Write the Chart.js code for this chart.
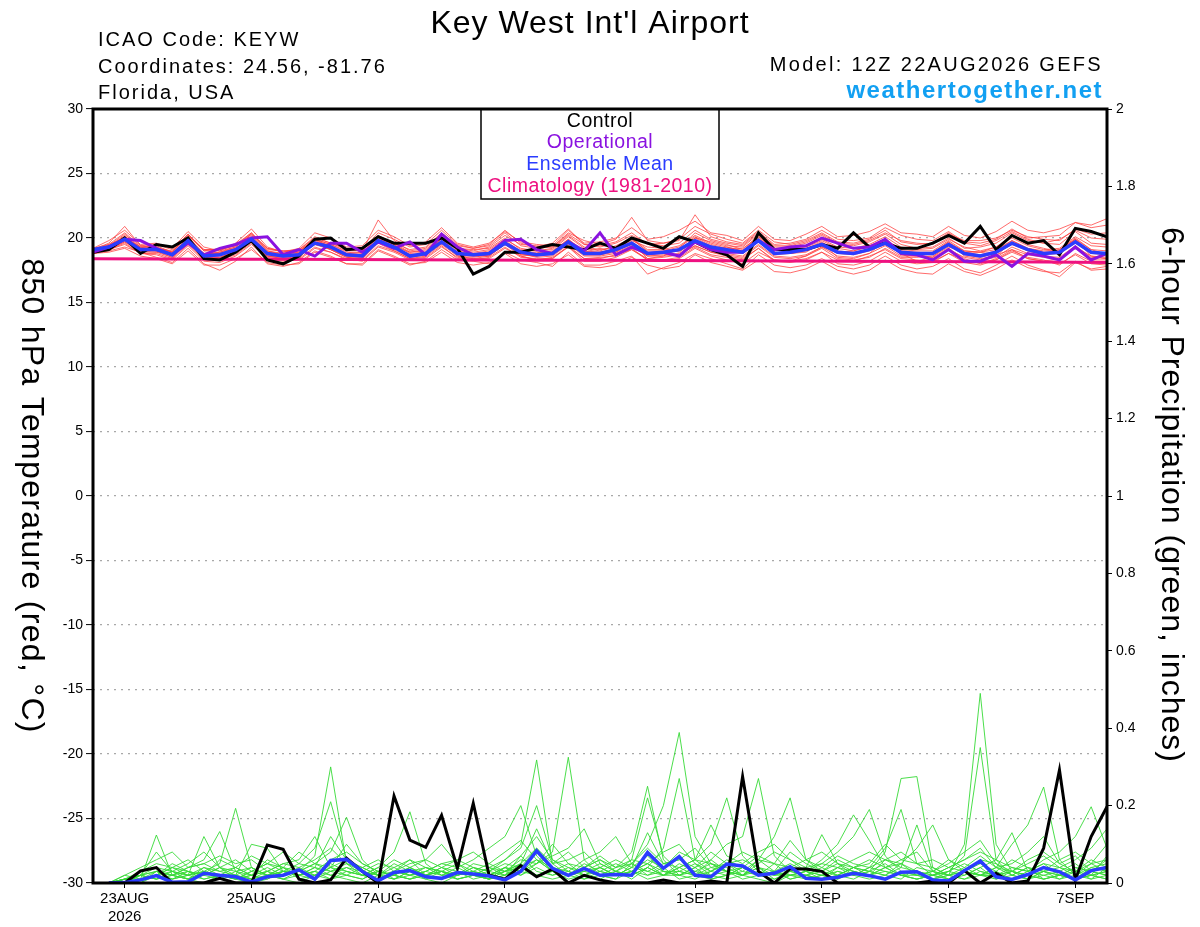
<!DOCTYPE html>
<html>
<head>
<meta charset="utf-8">
<title>Key West Int'l Airport - GEFS meteogram</title>
<script src="https://cdn.jsdelivr.net/npm/chart.js@4.4.1/dist/chart.umd.min.js"></script>
<style>
  html, body { margin: 0; padding: 0; background: #fff; }
  #wrap { width: 1200px; height: 927px; }
</style>
</head>
<body>
<div id="wrap"><canvas id="meteogram" width="1200" height="927"></canvas></div>
<script>
// forecast hours from 12Z 22AUG2026, every 6 hours
var hours = [];
for (var h = 0; h <= 384; h += 6) hours.push(h);
var precipHours = hours.slice(1);

var tickHours = [12, 60, 108, 156, 228, 276, 324, 372];
var tickLabels = ['23AUG', '25AUG', '27AUG', '29AUG', '1SEP', '3SEP', '5SEP', '7SEP'];
var tickYear = '2026';

var chartTitle = "Key West Int'l Airport";
var infoLines = ['ICAO Code: KEYW', 'Coordinates: 24.56, -81.76', 'Florida, USA'];
var modelText = 'Model: 12Z 22AUG2026 GEFS';
var siteText = 'weathertogether.net';
var legendNames = ['Control', 'Operational', 'Ensemble Mean', 'Climatology (1981-2010)'];
var legendColors = ['#000000', '#8a12e0', '#2a3cff', '#ee1180'];

// 850 hPa temperature, deg C
var controlTemp = [18.9,19.1,20.0,18.8, 19.5,19.3,20.0,18.4, 18.3,18.9,19.8,18.3, 18.0,18.6,19.9,20.0,
  19.1,19.2,20.1,19.6, 19.6,19.6,20.0,19.2, 17.2,17.8,18.9,18.9, 19.2,19.5,19.3,19.1,
  19.6,19.2,20.0,19.6, 19.2,20.1,19.7,19.1, 18.7,17.8,20.4,19.1, 19.1,19.1,19.5,19.2,
  20.4,19.3,19.6,19.2, 19.2,19.6,20.2,19.6, 20.9,19.1,20.2,19.6, 19.8,18.7,20.75,20.5, 20.1];
var operTemp = [18.9,19.3,19.9,19.8, 19.2,18.7,19.6,18.7, 19.2,19.5,20.0,20.1, 18.7,19.1,18.6,19.6,
  19.6,18.9,19.7,19.2, 19.7,18.7,20.3,19.3, 18.7,18.8,19.8,19.9, 19.1,18.8,19.7,19.0,
  20.4,18.7,19.3,18.8, 18.9,18.6,19.7,19.1, 18.9,18.9,19.8,19.1, 19.3,19.4,20.0,19.6,
  19.2,19.3,19.9,18.8, 18.7,18.3,19.1,18.2, 18.2,18.7,17.8,18.8, 18.6,18.3,19.3,18.3, 18.8];
var meanTemp = [19.1,19.3,19.9,19.1, 19.1,18.7,19.8,18.6, 18.7,19.1,19.9,18.8, 18.6,18.7,19.6,19.3,
  18.7,18.6,19.8,19.3, 18.6,18.8,19.7,18.8, 18.7,18.8,19.6,18.9, 18.7,18.8,19.7,18.8,
  18.8,19.1,19.6,18.8, 18.9,19.1,19.8,19.3, 19.1,18.9,19.8,18.8, 18.9,19.1,19.5,18.9,
  18.8,19.1,19.6,18.9, 18.8,18.8,19.5,18.8, 18.6,18.9,19.6,19.1, 18.8,18.9,19.7,18.9, 18.8];

var climHours = [0, 24, 48, 72, 96, 120, 144, 168, 192, 216, 240, 264, 288, 312, 336, 360, 384];
var climTemp = [18.40, 18.38, 18.36, 18.35, 18.33, 18.31, 18.30, 18.28, 18.27, 18.25, 18.23, 18.22, 18.20, 18.18, 18.16, 18.13, 18.10];

var tempMembers = [
  [19.0,19.4,20.3,19.3, 19.4,18.9,20.1,18.8, 18.9,19.3,20.2,19.0, 18.7,18.9,19.9,19.5,
   18.9,18.8,20.1,19.6, 18.9,19.0,20.0,19.1, 18.9,19.1,19.9,19.2, 19.0,19.1,20.1,19.2,
   19.0,19.4,20.0,19.1, 19.1,19.4,20.2,19.6, 19.3,19.0,20.1,19.1, 19.2,19.4,19.9,19.3,
   19.2,19.5,20.1,19.3, 19.1,19.2,19.9,19.3, 19.0,19.3,20.0,19.4, 19.1,19.2,20.1,19.4, 19.3],
  [18.9,19.1,19.6,18.8, 18.7,18.3,19.4,18.2, 18.1,18.6,19.5,18.4, 18.2,18.3,19.2,18.9,
   18.4,18.2,19.3,18.9, 18.3,18.4,19.3,18.5, 18.4,18.4,19.2,18.6, 18.3,18.5,19.3,18.4,
   18.4,18.7,19.1,18.4, 18.5,18.7,19.4,18.9, 18.6,18.4,19.2,18.3, 18.2,18.4,18.9,18.3,
   18.2,18.6,19.1,18.4, 18.3,18.2,18.8,18.1, 17.9,18.3,19.0,18.5, 18.3,17.9,18.8,18.2, 18.1],
  [19.1,19.6,20.9,19.4, 19.2,19.0,20.2,19.0, 19.2,19.5,20.4,19.2, 19.0,19.1,20.0,19.6,
   19.1,19.0,21.4,19.8, 19.0,19.2,20.3,19.2, 19.0,19.3,20.2,19.5, 19.4,19.3,20.4,19.8,
   19.5,19.9,21.6,19.8, 19.6,19.8,21.8,20.1, 19.7,19.5,20.5,19.5, 19.6,19.9,20.6,19.9,
   19.8,20.0,20.8,20.2, 19.9,19.8,20.5,19.7, 19.6,19.9,20.7,20.0, 20.1,20.2,21.2,21.0, 21.5],
  [18.8,19.0,19.3,18.9, 18.5,18.1,19.2,18.0, 17.5,18.2,19.3,18.0, 17.8,18.1,19.0,18.6,
   18.0,17.9,19.0,18.5, 17.9,18.2,19.1,18.3, 18.2,18.0,18.9,18.3, 18.1,17.8,18.9,17.9,
   17.9,18.2,18.6,17.2, 17.7,18.1,18.8,18.4, 18.0,17.6,18.7,17.9, 17.7,17.9,18.4,17.8,
   17.6,17.9,18.6,17.9, 17.6,17.8,18.4,17.6, 17.3,17.9,18.6,17.9, 17.5,17.0,18.1,17.6, 17.8],
  [19.0,19.2,19.8,19.0, 19.1,18.6,19.6,18.5, 18.6,19.0,19.8,18.7, 18.5,18.6,19.5,19.2,
   18.6,18.5,19.7,19.2, 18.5,18.7,19.6,18.7, 18.6,18.7,19.5,18.8, 18.6,18.7,19.6,18.7,
   18.7,19.0,19.5,18.7, 18.8,19.0,19.7,19.2, 19.0,18.8,19.7,18.7, 18.8,19.0,19.4,18.8,
   18.7,19.0,19.5,18.8, 18.7,18.7,19.4,18.7, 18.5,18.8,19.5,19.0, 18.7,18.8,19.6,18.8, 18.7],
  [19.2,19.5,20.0,19.3, 19.0,18.8,20.0,18.7, 18.9,19.2,20.1,18.9, 18.8,18.9,19.8,19.4,
   18.8,18.9,20.0,19.5, 18.8,18.9,19.9,19.0, 18.8,19.0,19.8,19.0, 18.8,19.0,19.9,19.0,
   18.9,19.2,19.9,19.0, 19.0,19.3,20.1,19.5, 19.2,19.2,20.0,19.0, 19.1,19.3,19.8,19.2,
   19.0,19.3,19.9,19.1, 19.0,19.0,19.8,19.0, 18.9,19.1,19.8,19.2, 19.0,19.1,19.9,19.1, 19.0],
  [19.0,19.3,20.1,19.2, 19.3,18.6,20.0,18.4, 18.5,18.9,20.0,18.6, 18.4,18.5,19.7,19.1,
   18.5,18.4,19.9,19.4, 18.7,18.6,20.0,18.6, 18.5,18.7,19.7,18.7, 18.6,18.9,19.9,18.9,
   19.2,18.9,19.7,18.4, 18.6,19.2,20.4,19.8, 19.5,19.1,20.2,18.9, 18.8,18.9,19.6,18.5,
   18.4,18.8,19.8,18.8, 18.2,18.5,19.6,19.0, 18.9,19.3,20.2,19.5, 19.2,18.9,19.9,18.6, 18.5],
  [18.9,19.2,19.7,19.0, 18.9,18.8,19.7,18.8, 18.8,19.1,19.8,18.8, 18.7,18.8,19.6,19.2,
   18.8,18.7,19.6,19.3, 18.6,18.8,19.6,18.9, 18.7,18.6,19.5,18.8, 18.5,18.6,19.5,18.6,
   18.6,18.8,19.3,18.6, 18.6,18.7,19.4,18.9, 18.7,18.5,19.4,18.5, 18.4,18.6,19.2,18.4,
   18.3,18.5,19.2,18.5, 18.5,18.6,19.3,18.9, 18.9,18.7,19.1,18.4, 18.2,18.4,19.2,18.3, 18.3],
  [19.1,19.4,20.0,19.2, 19.2,18.9,20.3,19.0, 19.0,19.3,20.3,19.1, 19.0,19.0,19.9,19.5,
   19.0,19.0,20.2,19.6, 19.1,19.3,20.4,19.4, 19.2,19.4,20.4,19.4, 19.2,19.3,20.3,19.5,
   19.3,19.6,20.2,19.6, 19.4,19.6,20.6,19.9, 19.6,19.4,20.4,19.4, 19.4,19.7,20.3,19.6,
   19.5,19.8,20.4,19.8, 19.6,19.5,20.3,19.8, 19.8,20.0,20.6,20.1, 19.9,19.8,20.7,20.3, 20.4],
  [18.8,19.1,19.5,18.8, 18.8,18.4,19.5,18.3, 18.3,18.7,19.6,18.5, 18.3,18.4,19.3,18.9,
   18.3,18.3,19.4,19.0, 18.4,18.5,19.4,18.4, 18.3,18.5,19.3,18.5, 18.4,18.4,19.4,18.4,
   18.5,18.6,19.2,18.3, 18.3,18.5,19.3,18.7, 18.5,18.3,19.2,18.2, 18.1,18.3,18.9,18.0,
   17.9,18.2,18.9,18.2, 18.0,18.1,18.8,18.3, 18.1,18.3,18.9,18.4, 18.2,18.0,18.7,18.0, 17.9],
  [19.0,19.3,20.2,19.1, 19.0,18.7,19.9,18.6, 18.7,19.0,20.0,18.8, 18.6,18.7,19.7,19.4,
   18.7,18.6,19.9,19.5, 18.6,18.9,19.7,18.8, 18.7,18.9,19.7,18.9, 18.9,18.7,19.8,18.8,
   18.8,19.1,19.8,19.3, 19.2,18.9,19.8,19.1, 19.3,19.0,19.9,18.8, 19.1,19.2,19.7,18.9,
   19.0,19.4,19.9,18.7, 18.6,18.9,19.7,18.6, 18.4,18.6,19.7,19.0, 18.7,19.1,20.0,19.1, 18.7],
  [19.1,19.3,19.9,19.2, 19.2,18.8,19.8,18.8, 18.8,19.2,20.0,18.9, 18.6,18.8,19.7,19.3,
   18.8,18.7,19.8,19.3, 18.7,18.8,19.8,18.9, 18.8,18.8,19.7,18.9, 18.7,18.9,19.8,18.9,
   18.9,19.1,19.7,18.8, 18.9,19.1,20.0,19.4, 19.1,18.9,19.9,18.8, 18.8,19.1,19.6,19.0,
   18.9,19.1,19.7,19.0, 18.9,18.8,19.7,18.9, 18.7,19.0,19.8,19.2, 18.9,19.0,19.9,18.9, 18.8],
  [19.2,19.8,20.6,19.5, 19.6,19.2,20.5,19.3, 19.0,19.6,20.7,19.3, 18.9,19.2,20.4,20.0,
   19.3,19.4,20.6,20.1, 19.4,19.7,20.8,19.6, 19.3,19.6,20.5,19.7, 19.5,19.4,20.6,19.6,
   19.7,20.0,20.8,19.9, 20.1,20.6,21.3,20.4, 20.2,19.8,20.9,19.9, 19.8,20.3,20.9,20.1,
   20.2,20.5,21.1,20.4, 20.3,20.1,20.9,20.2, 20.0,20.5,21.3,20.6, 20.4,20.7,21.2,20.8, 21.0],
  [18.8,18.9,19.2,18.6, 18.4,18.0,19.0,17.9, 17.9,18.4,19.1,18.1, 17.9,18.0,18.9,18.5,
   18.0,18.0,19.1,18.6, 18.0,18.1,18.9,18.1, 17.9,18.1,18.8,18.0, 17.8,18.0,18.7,17.8,
   17.7,17.9,18.5,17.9, 17.6,17.8,18.7,18.1, 17.8,17.5,18.3,17.4, 17.3,17.6,18.2,17.5,
   17.2,17.5,18.3,17.6, 17.3,17.2,18.0,17.4, 17.1,17.6,18.3,17.7, 17.4,17.3,18.2,17.5, 17.6],
  [19.0,19.5,20.4,19.4, 19.5,19.1,20.3,19.1, 19.1,19.4,20.3,19.2, 18.9,19.1,20.1,19.6,
   19.2,19.1,20.4,19.9, 19.3,19.5,20.6,19.5, 19.2,19.5,20.6,19.6, 19.3,19.6,20.7,19.5,
   19.4,19.7,20.4,19.5, 19.6,19.9,20.9,20.3, 19.9,19.6,20.6,19.7, 19.5,19.8,20.4,19.7,
   19.6,19.9,20.6,19.7, 19.5,19.6,20.4,19.6, 19.4,19.8,20.5,19.9, 19.6,19.9,20.6,20.0, 19.9],
  [18.9,19.2,19.9,19.1, 19.0,18.5,19.7,18.4, 18.4,18.8,19.7,18.6, 18.5,18.6,19.5,19.1,
   18.5,18.4,19.6,19.0, 18.4,18.6,19.5,18.6, 18.4,18.6,19.5,18.6, 18.3,18.4,19.3,18.2,
   18.2,18.5,19.1,18.3, 18.2,18.4,19.2,18.6, 18.3,18.0,18.9,18.3, 18.2,18.6,19.3,18.9,
   18.8,19.2,19.9,19.0, 18.7,18.5,19.2,18.4, 18.0,18.4,19.1,18.7, 18.5,18.3,19.3,18.6, 18.4],
  [19.1,19.4,20.1,19.3, 19.3,18.9,20.2,19.1, 19.1,19.4,20.4,19.0, 18.8,19.0,19.9,19.3,
   18.7,18.6,19.8,19.4, 18.9,19.1,20.1,19.2, 19.1,19.2,20.0,19.1, 19.0,19.2,20.2,19.3,
   19.1,19.3,20.0,18.9, 18.8,19.1,20.0,19.7, 19.4,19.3,20.3,19.3, 19.3,19.6,20.2,19.5,
   19.4,19.7,20.3,19.5, 19.2,19.3,20.0,19.2, 19.3,19.6,20.4,19.8, 19.6,19.5,20.5,19.6, 19.5],
  [18.9,19.1,19.7,18.9, 18.9,18.5,19.6,18.5, 18.5,19.0,19.9,18.6, 18.4,18.6,19.6,19.1,
   18.6,18.5,19.7,19.1, 18.5,18.7,19.6,18.7, 18.6,18.6,19.6,18.7, 18.6,18.8,19.6,18.7,
   18.7,18.9,19.4,18.6, 18.7,18.8,19.6,19.0, 18.8,18.6,19.5,18.6, 18.5,18.7,19.3,18.6,
   18.5,18.8,19.4,18.6, 18.6,18.4,19.1,18.5, 18.3,18.5,19.3,18.8, 18.6,18.5,19.4,18.5, 18.4]
];

// 6-hour precipitation, inches (from 18Z 22AUG)
var controlPrecip = [0,0,0.031,0.04, 0,0,0,0.012, 0,0,0.098,0.087, 0.01,0,0.008,0.064,
  0.03,0,0.225,0.111, 0.092,0.175,0.038,0.206, 0.02,0.01,0.045,0.016, 0.036,0,0.02,0.008,
  0,0,0,0.008, 0,0,0.005,0, 0.275,0.03,0,0.037, 0.036,0.03,0,0,
  0,0,0,0, 0.005,0,0.032,0, 0.025,0,0.005,0.09, 0.292,0.008,0.12,0.197];
var meanPrecip = [0,0.001,0.008,0.019, 0.002,0.003,0.025,0.02, 0.016,0.003,0.016,0.02, 0.034,0.01,0.058,0.061,
  0.03,0.006,0.027,0.032, 0.016,0.012,0.027,0.023, 0.018,0.008,0.03,0.083, 0.038,0.02,0.038,0.02,
  0.022,0.02,0.079,0.038, 0.068,0.02,0.016,0.049, 0.044,0.02,0.025,0.042, 0.012,0.01,0.015,0.025,
  0.019,0.01,0.028,0.029, 0.008,0.005,0.032,0.057, 0.016,0.009,0.022,0.04, 0.029,0.008,0.032,0.04];

var precipMembers = [
  [0,0,0.01,0.124, 0.02,0.01,0,0.02, 0.01,0,0.01,0.03, 0.02,0.04,0.02,0.01,
   0,0.02,0.05,0.03, 0.01,0,0.02,0.04, 0.03,0.06,0.1,0.318, 0.05,0.02,0.03,0.02,
   0.01,0.05,0.02,0.04, 0.01,0.02,0.06,0.03, 0.02,0.01,0,0.02, 0.03,0.02,0.01,0.03,
   0.02,0.06,0.04,0.15, 0.03,0.01,0.02,0.04, 0.01,0.03,0.02,0.01, 0.02,0.04,0.03,0.02],
  [0,0.01,0.02,0.04, 0.03,0.02,0.12,0.04, 0.01,0.02,0.03,0.01, 0.03,0.05,0.08,0.17,
   0.06,0.02,0.01,0.03, 0.04,0.02,0.01,0.02, 0.01,0.03,0.05,0.09, 0.04,0.02,0.01,0.03,
   0.02,0.04,0.07,0.03, 0.02,0.01,0.03,0.05, 0.02,0.04,0.01,0.02, 0.03,0.01,0.02,0.04,
   0.03,0.08,0.27,0.275, 0.04,0.02,0.01,0.03, 0.02,0.01,0.03,0.05, 0.02,0.01,0.02,0.01],
  [0,0,0.02,0.01, 0.02,0.04,0.06,0.133, 0.03,0.01,0.02,0.01, 0,0.02,0.04,0.06,
   0.03,0.01,0.02,0.01, 0.02,0.03,0.01,0.02, 0.01,0.04,0.02,0.05, 0.08,0.325,0.06,0.02,
   0.03,0.01,0.04,0.02, 0.05,0.03,0.02,0.01, 0.02,0.06,0.03,0.01, 0.02,0.03,0.05,0.02,
   0.04,0.09,0.19,0.05, 0.02,0.01,0.03,0.02, 0.01,0.02,0.04,0.03, 0.01,0.02,0.05,0.03],
  [0,0.01,0,0.03, 0.02,0.01,0.03,0.05, 0.193,0.04,0.02,0.01, 0.02,0.03,0.01,0.02,
   0.04,0.02,0.03,0.06, 0.02,0.01,0.02,0.03, 0.01,0.02,0.04,0.06, 0.03,0.05,0.02,0.01,
   0.03,0.06,0.22,0.07, 0.03,0.02,0.01,0.02, 0.04,0.02,0.03,0.01, 0.02,0.01,0.03,0.02,
   0.01,0.02,0.04,0.03, 0.01,0.02,0.1,0.49, 0.1,0.03,0.01,0.02, 0.03,0.01,0.02,0.03],
  [0,0,0.01,0.02, 0.01,0.03,0.02,0.04, 0.02,0.1,0.09,0.03, 0.02,0.01,0.03,0.02,
   0.01,0.03,0.02,0.04, 0.02,0.03,0.01,0.02, 0.03,0.02,0.05,0.02, 0.01,0.02,0.04,0.06,
   0.04,0.08,0.25,0.06, 0.02,0.04,0.01,0.02, 0.03,0.02,0.05,0.02, 0.01,0.02,0.01,0.03,
   0.02,0.04,0.02,0.01, 0.02,0.03,0.07,0.35, 0.06,0.02,0.01,0.03, 0.04,0.02,0.01,0.02],
  [0,0.01,0.02,0.01, 0.03,0.02,0.01,0.02, 0.04,0.02,0.03,0.05, 0.06,0.12,0.04,0.02,
   0.01,0.03,0.02,0.01, 0.03,0.02,0.04,0.02, 0.01,0.03,0.02,0.04, 0.02,0.03,0.01,0.02,
   0.04,0.05,0.1,0.2, 0.389,0.12,0.05,0.03, 0.01,0.02,0.03,0.02, 0.02,0.01,0.04,0.02,
   0.03,0.02,0.01,0.04, 0.03,0.05,0.08,0.11, 0.05,0.02,0.04,0.01, 0.02,0.03,0.01,0.04],
  [0,0,0.01,0.03, 0.02,0.01,0.04,0.02, 0.01,0.03,0.02,0.04, 0.03,0.07,0.30,0.05,
   0.02,0.04,0.01,0.03, 0.02,0.01,0.03,0.02, 0.04,0.02,0.07,0.03, 0.02,0.04,0.03,0.05,
   0.03,0.02,0.04,0.09, 0.27,0.06,0.03,0.02, 0.04,0.02,0.01,0.03, 0.02,0.04,0.02,0.01,
   0.03,0.02,0.05,0.02, 0.01,0.03,0.02,0.04, 0.06,0.13,0.03,0.02, 0.01,0.03,0.02,0.01],
  [0,0.02,0.01,0.02, 0.04,0.02,0.03,0.01, 0.02,0.04,0.02,0.03, 0.05,0.09,0.21,0.06,
   0.03,0.02,0.04,0.02, 0.01,0.03,0.02,0.04, 0.02,0.04,0.03,0.06, 0.03,0.02,0.05,0.03,
   0.02,0.04,0.03,0.05, 0.04,0.06,0.1,0.22, 0.07,0.03,0.02,0.04, 0.01,0.02,0.03,0.02,
   0.04,0.03,0.02,0.01, 0.02,0.04,0.03,0.02, 0.04,0.1,0.15,0.248, 0.06,0.02,0.04,0.03],
  [0,0.01,0.02,0.03, 0.01,0.02,0.04,0.03, 0.02,0.01,0.03,0.02, 0.04,0.02,0.05,0.03,
   0.02,0.04,0.08,0.184, 0.05,0.02,0.03,0.01, 0.02,0.03,0.04,0.02, 0.03,0.01,0.02,0.04,
   0.02,0.03,0.05,0.03, 0.02,0.04,0.06,0.1, 0.12,0.27,0.07,0.03, 0.02,0.01,0.02,0.04,
   0.03,0.05,0.02,0.01, 0.02,0.03,0.05,0.03, 0.02,0.04,0.03,0.06, 0.08,0.12,0.197,0.09],
  [0,0,0.01,0.02, 0.03,0.01,0.02,0.04, 0.03,0.02,0.01,0.03, 0.02,0.04,0.03,0.05,
   0.04,0.02,0.01,0.02, 0.03,0.05,0.04,0.06, 0.09,0.12,0.2,0.07, 0.03,0.02,0.04,0.02,
   0.01,0.03,0.05,0.02, 0.04,0.02,0.03,0.05, 0.08,0.06,0.12,0.22, 0.06,0.03,0.02,0.04,
   0.02,0.01,0.03,0.02, 0.01,0.02,0.04,0.02, 0.03,0.01,0.02,0.04, 0.03,0.05,0.02,0.07],
  [0,0.01,0,0.02, 0.04,0.03,0.02,0.01, 0.03,0.04,0.02,0.04, 0.01,0.02,0.04,0.03,
   0.02,0.01,0.03,0.02, 0.04,0.03,0.02,0.05, 0.04,0.06,0.09,0.2, 0.06,0.03,0.02,0.04,
   0.02,0.03,0.01,0.02, 0.03,0.05,0.02,0.03, 0.04,0.02,0.03,0.05, 0.03,0.06,0.1,0.176,
   0.11,0.04,0.02,0.03, 0.02,0.01,0.03,0.02, 0.04,0.02,0.01,0.03, 0.02,0.01,0.04,0.05],
  [0,0,0.02,0.01, 0.02,0.03,0.01,0.02, 0.01,0.02,0.04,0.02, 0.03,0.02,0.01,0.03,
   0.02,0.03,0.02,0.04, 0.02,0.04,0.03,0.02, 0.01,0.02,0.03,0.05, 0.07,0.09,0.14,0.05,
   0.03,0.02,0.04,0.02, 0.02,0.03,0.05,0.04, 0.02,0.04,0.02,0.03, 0.04,0.05,0.08,0.12,
   0.19,0.07,0.03,0.02, 0.03,0.02,0.01,0.02, 0.02,0.03,0.02,0.01, 0.02,0.04,0.03,0.02],
  [0,0.01,0.03,0.05, 0.04,0.06,0.03,0.02, 0.01,0.03,0.05,0.04, 0.08,0.05,0.03,0.04,
   0.02,0.01,0.03,0.05, 0.06,0.04,0.02,0.03, 0.05,0.08,0.11,0.06, 0.04,0.03,0.06,0.08,
   0.12,0.05,0.03,0.02, 0.04,0.06,0.05,0.03, 0.02,0.05,0.08,0.06, 0.04,0.125,0.05,0.03,
   0.02,0.04,0.06,0.05, 0.04,0.02,0.03,0.06, 0.05,0.03,0.06,0.08, 0.05,0.03,0.06,0.04],
  [0,0,0.01,0.02, 0.05,0.03,0.02,0.06, 0.04,0.02,0.06,0.04, 0.02,0.03,0.06,0.08,
   0.05,0.03,0.02,0.04, 0.06,0.1,0.05,0.03, 0.02,0.04,0.07,0.12, 0.06,0.04,0.02,0.03,
   0.05,0.03,0.06,0.04, 0.08,0.06,0.15,0.07, 0.05,0.08,0.1,0.06, 0.03,0.05,0.04,0.06,
   0.08,0.06,0.05,0.09, 0.15,0.06,0.03,0.05, 0.03,0.06,0.04,0.03, 0.06,0.08,0.05,0.1],
  [0,0.02,0.04,0.06, 0.08,0.04,0.05,0.07, 0.05,0.06,0.03,0.05, 0.04,0.06,0.09,0.05,
   0.03,0.05,0.04,0.06, 0.04,0.03,0.05,0.02, 0.04,0.03,0.05,0.14, 0.05,0.08,0.04,0.06,
   0.03,0.05,0.09,0.05, 0.06,0.09,0.04,0.05, 0.06,0.04,0.03,0.08, 0.05,0.03,0.06,0.04,
   0.05,0.1,0.06,0.08, 0.03,0.06,0.04,0.07, 0.04,0.05,0.08,0.12, 0.05,0.07,0.03,0.06],
  [0,0.01,0.02,0.08, 0.03,0.05,0.08,0.04, 0.06,0.03,0.05,0.08, 0.05,0.04,0.12,0.06,
   0.04,0.06,0.03,0.02, 0.03,0.05,0.06,0.04, 0.03,0.05,0.04,0.09, 0.05,0.06,0.08,0.04,
   0.06,0.04,0.13,0.05, 0.06,0.04,0.08,0.05, 0.03,0.06,0.05,0.11, 0.06,0.04,0.07,0.05,
   0.04,0.06,0.08,0.05, 0.06,0.04,0.06,0.09, 0.04,0.03,0.05,0.07, 0.04,0.06,0.09,0.14],
  [0,0,0.02,0.03, 0.02,0.04,0.05,0.03, 0.04,0.07,0.05,0.03, 0.03,0.05,0.04,0.1,
   0.05,0.03,0.06,0.04, 0.02,0.04,0.06,0.08, 0.05,0.03,0.06,0.05, 0.1,0.05,0.04,0.07,
   0.04,0.06,0.05,0.08, 0.1,0.05,0.03,0.06, 0.04,0.07,0.05,0.04, 0.06,0.08,0.05,0.04,
   0.06,0.04,0.05,0.03, 0.02,0.04,0.06,0.08, 0.06,0.04,0.03,0.05, 0.04,0.03,0.05,0.06],
  [0,0.01,0.01,0.02, 0.01,0.02,0.03,0.02, 0.02,0.01,0.02,0.03, 0.02,0.03,0.02,0.04,
   0.03,0.02,0.02,0.01, 0.02,0.03,0.02,0.03, 0.02,0.04,0.03,0.02, 0.03,0.02,0.03,0.04,
   0.02,0.03,0.02,0.03, 0.03,0.02,0.04,0.03, 0.02,0.03,0.02,0.02, 0.03,0.02,0.04,0.03,
   0.02,0.03,0.02,0.02, 0.03,0.02,0.03,0.02, 0.02,0.03,0.02,0.03, 0.02,0.01,0.02,0.03]
];

var FONT = "'Liberation Sans', Arial, Helvetica, sans-serif";

function pairs(xs, ys) {
  return ys.map(function(v, i) { return { x: xs[i], y: v }; });
}

function drawText(ctx, txt, x, y, font, color, align, spacing) {
  ctx.save();
  ctx.font = font;
  ctx.fillStyle = color;
  ctx.textAlign = align;
  ctx.textBaseline = 'alphabetic';
  ctx.letterSpacing = spacing + 'px';
  ctx.fillText(txt, x, y);
  ctx.restore();
}

function drawTitleDown(ctx, txt, x, y, font, spacing) {
  ctx.save();
  ctx.translate(x, y);
  ctx.rotate(Math.PI / 2);
  ctx.font = font;
  ctx.fillStyle = '#000';
  ctx.textAlign = 'center';
  ctx.textBaseline = 'middle';
  ctx.letterSpacing = spacing + 'px';
  ctx.fillText(txt, 0, 0);
  ctx.restore();
}

// titles, legend box and the heavy frame round the plot
var decor = {
  id: 'decor',
  afterDraw: function(chart) {
    var ctx = chart.ctx, a = chart.chartArea;

    ctx.save();
    ctx.fillStyle = '#fff';
    ctx.fillRect(481, a.top, 238, 199 - a.top);
    ctx.strokeStyle = '#000';
    ctx.lineWidth = 1.5;
    ctx.strokeRect(481, a.top, 238, 199 - a.top);
    ctx.restore();
    var rows = [126.7, 148.3, 170, 192];
    legendNames.forEach(function(name, i) {
      drawText(ctx, name, 600, rows[i], '19.5px ' + FONT, legendColors[i], 'center', 0.5);
    });

    ctx.save();
    ctx.strokeStyle = '#000';
    ctx.lineWidth = 3;
    ctx.strokeRect(a.left, a.top, a.right - a.left, a.bottom - a.top);
    ctx.restore();

    drawText(ctx, chartTitle, 590, 32.5, '32px ' + FONT, '#000', 'center', 1);
    drawText(ctx, infoLines[0], 98, 46, '20px ' + FONT, '#000', 'left', 2);
    drawText(ctx, infoLines[1], 98, 73.3, '20px ' + FONT, '#000', 'left', 2);
    drawText(ctx, infoLines[2], 98, 99.3, '20px ' + FONT, '#000', 'left', 2);
    drawText(ctx, modelText, 1103, 71, '20px ' + FONT, '#000', 'right', 2.3);
    drawText(ctx, siteText, 1103, 97.7, 'bold 24px ' + FONT, '#12a0f2', 'right', 1.5);

    drawTitleDown(ctx, '850 hPa Temperature (red, \u00B0C)', 31, 496, '32px ' + FONT, 1.3);
    drawTitleDown(ctx, '6-hour Precipitation (green, inches)', 1171, 495, '32px ' + FONT, 1.0);
  }
};

var datasets = [];
tempMembers.forEach(function(m) {
  datasets.push({ data: pairs(hours, m), yAxisID: 'yT', borderColor: 'rgba(255,60,60,0.85)', borderWidth: 0.9, order: 20 });
});
precipMembers.forEach(function(m) {
  datasets.push({ data: pairs(precipHours, m), yAxisID: 'yP', borderColor: 'rgb(55,218,55)', borderWidth: 0.9, order: 19 });
});
datasets.push({ data: pairs(climHours, climTemp), yAxisID: 'yT', borderColor: '#ee1180', borderWidth: 3, order: 6 });
datasets.push({ data: pairs(hours, controlTemp), yAxisID: 'yT', borderColor: '#000000', borderWidth: 3, order: 5 });
datasets.push({ data: pairs(hours, operTemp), yAxisID: 'yT', borderColor: '#8a12e0', borderWidth: 3, order: 4 });
datasets.push({ data: pairs(hours, meanTemp), yAxisID: 'yT', borderColor: '#2a3cff', borderWidth: 3.5, order: 3 });
datasets.push({ data: pairs(precipHours, controlPrecip), yAxisID: 'yP', borderColor: '#000000', borderWidth: 3, order: 2 });
datasets.push({ data: pairs(precipHours, meanPrecip), yAxisID: 'yP', borderColor: '#2a3cff', borderWidth: 3.5, order: 1 });

Chart.defaults.font.family = FONT;
Chart.defaults.color = '#000';

new Chart(document.getElementById('meteogram'), {
  type: 'line',
  data: { datasets: datasets },
  options: {
    responsive: false,
    devicePixelRatio: 1,
    animation: false,
    events: [],
    layout: { padding: { top: 109, left: 0, right: 0, bottom: 0 } },
    elements: {
      point: { radius: 0 },
      line: { tension: 0, borderCapStyle: 'butt', borderJoinStyle: 'miter' }
    },
    plugins: { legend: { display: false }, tooltip: { enabled: false } },
    scales: {
      x: {
        type: 'linear', min: 0, max: 384,
        afterBuildTicks: function(s) {
          s.ticks = tickHours.map(function(v) { return { value: v }; });
        },
        ticks: {
          autoSkip: false, maxRotation: 0, padding: 2,
          font: { size: 15 }, color: '#000',
          callback: function(v) {
            var i = tickHours.indexOf(v);
            if (i < 0) return '';
            return i === 0 ? [tickLabels[i], tickYear] : tickLabels[i];
          }
        },
        grid: { drawOnChartArea: false, drawTicks: true, tickLength: 5, tickColor: '#000', tickWidth: 1 },
        border: { display: false },
        afterFit: function(s) { s.height = 44; }
      },
      yT: {
        position: 'left', min: -30, max: 30,
        ticks: { stepSize: 5, padding: 3, font: { size: 14 }, color: '#000' },
        grid: { color: '#a8a8a8', lineWidth: 1.2, drawTicks: true, tickLength: 7, tickColor: '#000', tickWidth: 1, tickBorderDash: [] },
        border: { display: false, dash: [2, 5] },
        afterFit: function(s) { s.width = 93; }
      },
      yP: {
        position: 'right', min: 0, max: 2,
        ticks: {
          stepSize: 0.2, padding: 4, font: { size: 14 }, color: '#000',
          callback: function(v) { return String(Math.round(v * 10) / 10); }
        },
        grid: { drawOnChartArea: false, drawTicks: true, tickLength: 5, tickColor: '#000', tickWidth: 1 },
        border: { display: false },
        afterFit: function(s) { s.width = 93; }
      }
    }
  },
  plugins: [decor]
});
</script>
</body>
</html>
